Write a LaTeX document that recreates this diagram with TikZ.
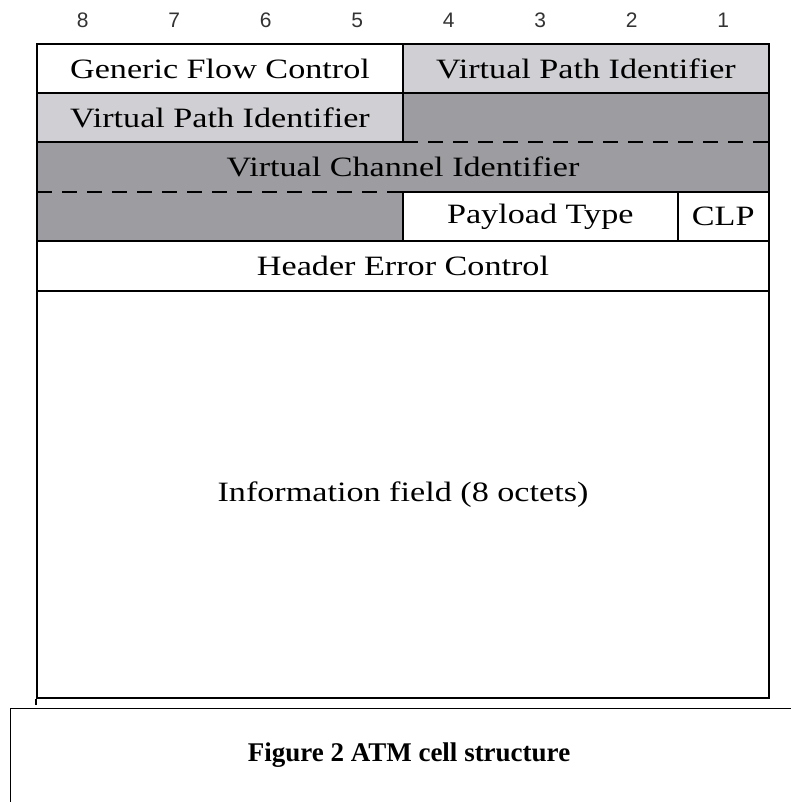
\documentclass[tikz,border=0pt]{standalone}
\usepackage{fontspec}
\setmainfont[FakeStretch=1.22]{Liberation Serif}
\newfontfamily\bitfont{Liberation Sans}
\newfontfamily\capfont{Liberation Serif}
\usetikzlibrary{positioning}
\definecolor{vpigray}{HTML}{D0CFD3}
\definecolor{vcigray}{HTML}{9D9CA0}

\begin{document}
\begin{tikzpicture}[
  x=1pt,y=-1pt,
  field/.style={draw,line width=2pt,minimum height=49pt,inner sep=0pt,
                font=\fontsize{28}{30}\selectfont},
  vpi/.style={field,fill=vpigray},
  txt/.style={font=\fontsize{28}{30}\selectfont,inner sep=0pt},
  bit/.style={font=\bitfont\fontsize{21}{24}\selectfont,text=black!80},
  sep/.style={line width=2pt,dash pattern=on 15pt off 10pt},
]
\useasboundingbox (0,0) rectangle (791,802);
\clip (0,0) rectangle (791,802);
\fill[white] (0,0) rectangle (791,802);

% bit numbers
\foreach \b [count=\i] in {8,7,6,5,4,3,2,1}
  \node[bit] (b\b) at (37+91.5*\i-45.75,20) {\b};

% octet 1 and 2
\node[field,minimum width=366pt] (gfc) at (220,69) {Generic Flow Control};
\node[vpi,minimum width=366pt] (vpihi) at (586,69) {Virtual Path Identifier};
\node[vpi,minimum width=366pt] (vpilo) at (220,117.5) {Virtual Path Identifier};

% VCI spans three octets
\fill[vcigray] (403,93) -- (769,93) -- (769,192) -- (403,192) -- (403,241)
  -- (37,241) -- (37,142) -- (403,142) -- cycle;
\draw[line width=2pt] (403,93) -- (769,93) -- (769,192) -- (403,192) -- (403,241)
  -- (37,241) -- (37,142) -- (403,142) -- cycle;
\node[txt] (vci) at (403,167) {Virtual Channel Identifier};
\draw[sep] (403,142) -- (769,142);
\draw[sep] (37,192) -- (403,192);

% octet 4
\node[field,minimum width=274.5pt] (pt) at (540.25,216.5) {Payload Type};
\node[field,minimum width=91.5pt] (clp) at (723.25,216.5) {CLP};

% HEC + payload
\node[field,minimum width=732pt,minimum height=50pt] (hec) at (403,266) {Header Error Control};
\node[field,minimum width=732pt,minimum height=407pt] (info) at (403,494.5)
  {Information field (8 octets)};
\draw[line width=2pt] (info.south west) -- ++(0,6);

% caption
\node[draw,line width=1pt,minimum width=800pt,minimum height=110pt,
      anchor=north west] (capbox) at (10,708) {};
\node[font=\capfont\bfseries\fontsize{27}{30}\selectfont,anchor=base]
  (caption) at (409,761) {Figure 2 ATM cell structure};
\end{tikzpicture}
\end{document}
